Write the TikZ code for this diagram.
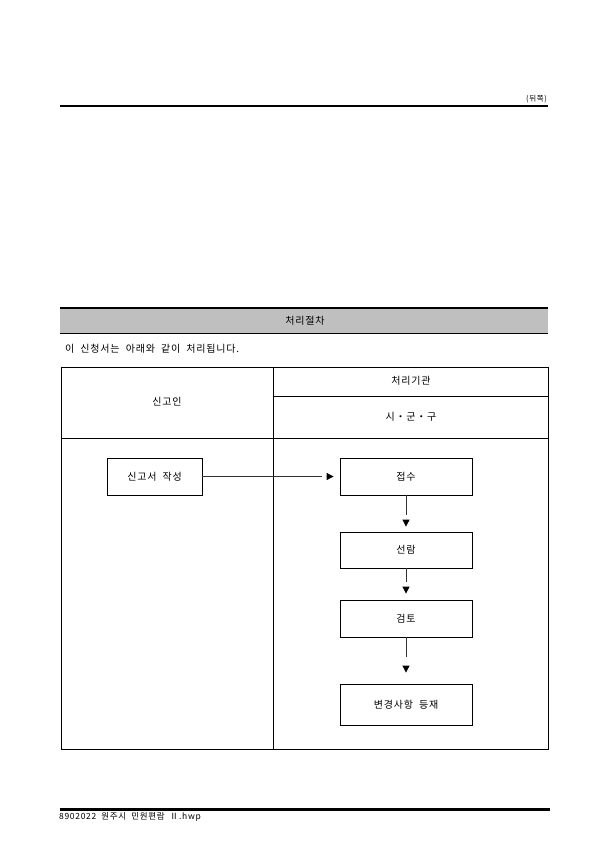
\documentclass[tikz,border=0pt]{standalone}
\usepackage{fontspec}
\setmainfont[LetterSpace=8, WordSpace=2]{Noto Sans CJK KR}
\usetikzlibrary{arrows.meta}

\begin{document}
\begin{tikzpicture}[
             x               = 1pt,
             y               = -1pt,
             txt/.style      = {font=\fontsize{10}{12}\selectfont, inner sep=0pt},
             box/.style      = {draw, line width=0.8pt, inner sep=0pt,
                                minimum width=132pt, minimum height=37pt,
                                font=\fontsize{10}{12}\selectfont},
             rule/.style     = {line width=0.8pt},
             link/.style     = {line width=0.8pt, black!80},
             tip/.style      = {line width=0.8pt, -{Triangle[length=7pt, width=7pt]}}]
             \useasboundingbox (0,0) rectangle (607,859);
             \node[txt, anchor=east, font=\fontsize{7.5}{9}\selectfont] (side) at (547,99) {(뒤쪽)};
             \draw [line width=1.2pt] (60,106) -- (548,106);
             \fill [black!25] (60,308) rectangle (548,333);
             \draw [line width=2pt] (60,308) -- (548,308);
             \draw [line width=1pt] (60,333) -- (548,333);
             \node[txt] (title) at (305,321) {처리절차};
             \node[txt, anchor=west] (intro) at (65,349) {이 신청서는 아래와 같이 처리됩니다.};
             \draw [rule] (61,367) rectangle (548,749);
             \draw [rule] (273,367) -- (273,749);
             \draw [rule] (273,396) -- (548,396);
             \draw [rule] (61,438) -- (548,438);
             \node[txt] (applicant) at (167,402) {신고인};
             \node[txt] (agency) at (411,381) {처리기관};
             \node[txt] (office) at (411,417) {시・군・구};
             \node[box, minimum width=95pt] (write) at (154.5,476.5) {신고서 작성};
             \node[box] (receipt) at (406,476.5) {접수};
             \node[box, minimum height=36pt] (review) at (406,550) {선람};
             \node[box] (check) at (406,618.5) {검토};
             \node[box, minimum height=41pt] (record) at (406,704.5) {변경사항 등재};
             \draw [link] (write.east) -- ([xshift=-18pt]receipt.west);
             \draw [tip] ([xshift=-13pt]receipt.west) -- ([xshift=-6pt]receipt.west);
             \draw [link] (receipt.south) -- ([yshift=17pt]review.north);
             \draw [tip] ([yshift=12pt]review.north) -- ([yshift=5pt]review.north);
             \draw [link] (review.south) -- ([yshift=18pt]check.north);
             \draw [tip] ([yshift=12pt]check.north) -- ([yshift=6pt]check.north);
             \draw [link] (check.south) -- ([yshift=27pt]record.north);
             \draw [tip] ([yshift=17pt]record.north) -- ([yshift=11pt]record.north);
             \draw [line width=3pt] (60,809) -- (550,809);
             \node[txt, anchor=west, font=\fontsize{8.5}{10}\selectfont] (footer) at (59,817) {8902022 원주시 민원편람 Ⅱ.hwp};
\end{tikzpicture}
\end{document}
